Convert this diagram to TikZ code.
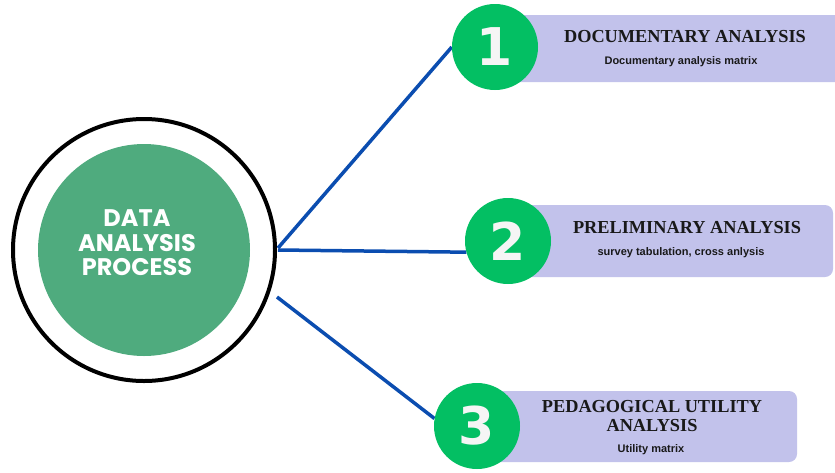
\documentclass[tikz,border=0pt]{standalone}
\usepackage{fontspec}
\usetikzlibrary{backgrounds}
\setmainfont{Liberation Serif}
\newfontfamily\numfont{DejaVu Sans}
\newfontfamily\ctrfont{Poppins}
\newfontfamily\subfont{Liberation Sans}
\definecolor{lav}{HTML}{C2C2EB}
\definecolor{numgreen}{HTML}{03BF63}
\definecolor{ctrgreen}{HTML}{4FAB7E}
\definecolor{linkblue}{HTML}{0B4DB0}
\definecolor{numwhite}{HTML}{F5F5F5}
\tikzset{
  link/.style={draw=linkblue, line width=3.5pt},
  band/.style={fill=lav, rounded corners=8pt},
  numc/.style={circle, fill=numgreen, minimum size=86pt, inner sep=0pt, text=numwhite, font=\numfont\bfseries\fontsize{52}{52}\selectfont},
  ttl/.style={font=\bfseries\fontsize{18.3}{18.3}\selectfont, align=center, inner sep=0pt, text=black!90},
  sub/.style={font=\subfont\bfseries\fontsize{11}{12}\selectfont, inner sep=0pt, text=black!90}
}
\begin{document}
\begin{tikzpicture}[x=1pt,y=-1pt]
\useasboundingbox (0,0) rectangle (835,472);
% bands
\path[band] (500,15) rectangle (850,82);
\path[band] (520,205) rectangle (833,277);
\path[band] (480,391) rectangle (797,462);
% center
\node[circle, draw=black, line width=4pt, minimum size=262pt, inner sep=0pt] (outer) at (144,250) {};
\node[circle, fill=ctrgreen, minimum size=212pt, inner sep=0pt] (inner) at (144,250) {};
\node[text=white, font=\ctrfont\bfseries\fontsize{24}{24.5}\selectfont, align=center, inner sep=0pt] (ctext) at (137,243) {DATA\\ANALYSIS\\PROCESS};
% number circles
\node[numc] (n1) at (495,47) {1};
\node[numc] (n2) at (508,241) {2};
\node[numc] (n3) at (477,426) {3};
\coordinate (s1) at (278,248);
\coordinate (s2) at (278,250);
\coordinate (s3) at (277,297);
\begin{scope}[on background layer]
\draw[link] (s1) -- (n1.west);
\draw[link] (s2) -- (n2.195);
\draw[link] (s3) -- (n3.170);
\end{scope}
% texts
\node[ttl] (t1) at (685,37) {DOCUMENTARY ANALYSIS};
\node[sub] (u1) at (681,62) {Documentary analysis matrix};
\node[ttl] (t2) at (687,228) {PRELIMINARY ANALYSIS};
\node[sub] (u2) at (681,253) {survey tabulation, cross anlysis};
\node[ttl] (t3) at (652,416) {PEDAGOGICAL UTILITY\\ANALYSIS};
\node[sub] (u3) at (651,450) {Utility matrix};
\end{tikzpicture}
\end{document}
